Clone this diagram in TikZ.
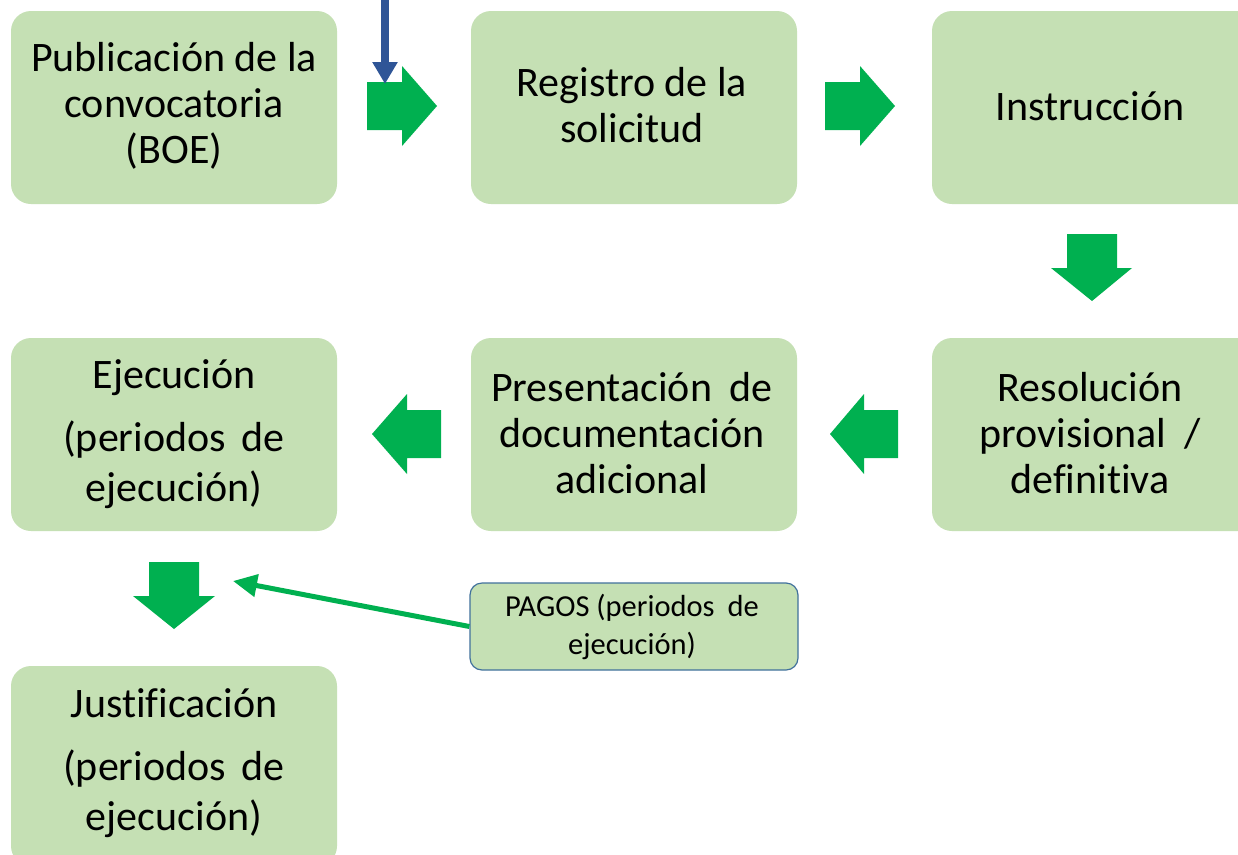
\documentclass[tikz,border=0pt]{standalone}
\usepackage{fontspec}
\setmainfont{Carlito}[Ligatures={NoCommon,NoRare,NoContextual},RawFeature={-liga;-clig}]
\usetikzlibrary{arrows.meta}
\definecolor{boxgreen}{HTML}{C5E0B4}
\definecolor{arrgreen}{HTML}{00B050}
\definecolor{arrblue}{HTML}{2F5597}
\definecolor{edgeblue}{HTML}{41719C}
\tikzset{
  stage/.style={fill=boxgreen, draw=none, rounded corners=20pt, minimum width=326pt, minimum height=193pt, inner sep=0pt},
  stagetext/.style={align=center, font=\fontsize{42}{46}\selectfont, inner sep=0pt},
  notebox/.style={fill=boxgreen, draw=edgeblue, line width=1.2pt, rounded corners=12pt, minimum width=328pt, minimum height=87pt, inner sep=0pt},
  notetext/.style={align=center, font=\fontsize{30.5}{38}\selectfont, inner sep=0pt},
  blockarrow/.style={fill=arrgreen, draw=none},
  linkarrow/.style={draw=arrgreen, line width=5pt, -{Triangle[length=24pt,width=22pt]}},
  inarrow/.style={draw=arrblue, line width=8pt, -{Triangle[length=22pt,width=24pt]}}
}
\begin{document}
\begin{tikzpicture}[x=1pt,y=-1pt]
\clip (0,0) rectangle (1238,854);
\fill[white] (0,0) rectangle (1238,854);
% boxes
\node[stage] (pub) at (174,107.5) {};
\node[stage] (reg) at (634,107.5) {};
\node[stage] (ins) at (1095,107.5) {};
\node[stage] (eje) at (174,434.5) {};
\node[stage] (pre) at (634,434.5) {};
\node[stage] (res) at (1095,434.5) {};
\node[stage, minimum height=200pt] (jus) at (174,766) {};
% texts
\node[stagetext] (tpub) at (174,106) {Publicación de la\\convocatoria\\(BOE)};
\node[stagetext] (treg) at (632,105) {Registro de la\\solicitud};
\node[stagetext] (tins) at (1090,106) {Instrucción};
\node[stagetext] (tpre) at (632,433) {Presentación\hspace{0.2em} de\\documentación\\adicional};
\node[stagetext] (tres) at (1090,433) {Resolución\\provisional\hspace{0.2em} /\\definitiva};
\node[stagetext, font=\fontsize{42}{50}\selectfont] (teje) at (174,434.5) {Ejecución\\[13pt](periodos\hspace{0.15em} de\\ejecución)};
\node[stagetext, font=\fontsize{42}{50}\selectfont] (tjus) at (174,763) {Justificación\\[13pt](periodos\hspace{0.15em} de\\ejecución)};
% note box
\node[notebox] (pag) at (634,626.5) {};
\node[notetext] (tpag) at (632,627) {PAGOS (periodos\hspace{0.2em} de\\ejecución)};
% block arrows
\fill[blockarrow] (367,82) -- (402,82) -- (402,66) -- (437,106) -- (402,146) -- (402,130) -- (367,130) -- cycle;
\fill[blockarrow] (825,82) -- (860,82) -- (860,66) -- (895,106) -- (860,146) -- (860,130) -- (825,130) -- cycle;
\fill[blockarrow] (1067,234) -- (1117,234) -- (1117,268) -- (1132,268) -- (1092,301) -- (1051,268) -- (1067,268) -- cycle;
\fill[blockarrow] (441,410) -- (407,410) -- (407,394) -- (372,434) -- (407,474) -- (407,458) -- (441,458) -- cycle;
\fill[blockarrow] (898,410) -- (864,410) -- (864,394) -- (830,434) -- (864,474) -- (864,458) -- (898,458) -- cycle;
\fill[blockarrow] (149,562) -- (199,562) -- (199,596) -- (215,596) -- (174,629) -- (133,596) -- (149,596) -- cycle;
% connectors
\coordinate (bluestart) at (385,-2);
\coordinate (blueend) at (385,84);
\draw[inarrow] (bluestart) -- (blueend);
\coordinate (payend) at (233,581);
\draw[linkarrow] (pag.west) -- (payend);
\end{tikzpicture}
\end{document}
